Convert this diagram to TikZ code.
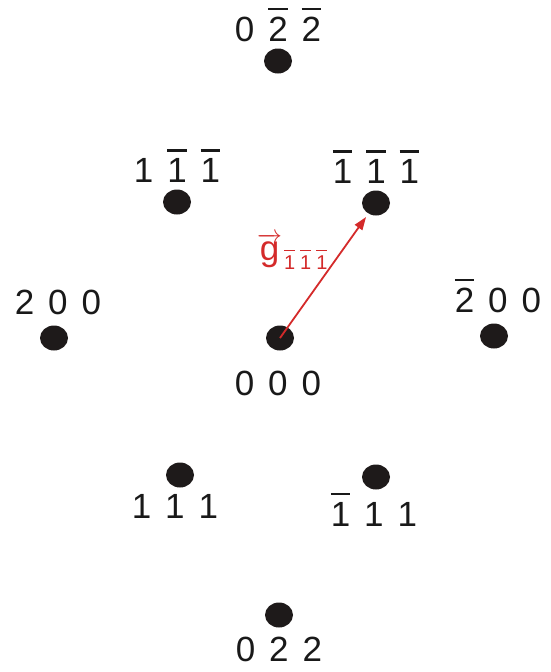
\documentclass[tikz,border=0pt]{standalone}
\usepackage{fontspec}
\setmainfont{Liberation Sans}
\usepackage{tikz}
\usetikzlibrary{positioning, arrows.meta, shapes.geometric}
\definecolor{spotc}{HTML}{1E1A1A}
\definecolor{gred}{HTML}{D42A2A}
\newcommand\nb[1]{\vbox{\hrule height .07em\kern .19em\hbox{#1}}}
\newcommand\hkl[3]{#1\hskip .4em #2\hskip .4em #3}
\newcommand\hkls[3]{#1\hskip .25em #2\hskip .25em #3}
\tikzset{
  spot/.style = {ellipse, fill=spotc, minimum width=28pt, minimum height=25pt, inner sep=0pt},
  idx/.style  = {inner sep=0pt, font=\fontsize{35}{40}\selectfont, text=black!90},
  glab/.style = {inner sep=0pt, font=\fontsize{35}{40}\selectfont, text=gred},
  gvec/.style = {-{Triangle[length=13pt,width=9pt]}, line width=1.8pt, draw=gred},
}

\begin{document}
\begin{tikzpicture}[x=1pt, y=-1pt]
  \useasboundingbox (0,0) rectangle (550,672);

  % reflections
  \node[spot] (d0m2m2)  at (278,61)  {};
  \node[spot] (d1m1m1)  at (177,202) {};
  \node[spot] (dm1m1m1) at (376,203) {};
  \node[spot] (d200)    at (54,338)  {};
  \node[spot] (d000)    at (280,338) {};
  \node[spot] (dm200)   at (494,336) {};
  \node[spot] (d111)    at (180,475) {};
  \node[spot] (dm111)   at (376,477) {};
  \node[spot] (d022)    at (279,615) {};

  % indices
  \node[idx, above=6.5pt of d0m2m2]  (l0m2m2)  {\hkl{0}{\nb{2}}{\nb{2}}};
  \node[idx, above=6.5pt of d1m1m1]  (l1m1m1)  {\hkl{1}{\nb{1}}{\nb{1}}};
  \node[idx, above=6.5pt of dm1m1m1] (lm1m1m1) {\hkl{\nb{1}}{\nb{1}}{\nb{1}}};
  \node[idx, above=10.5pt of d200, xshift=4pt]  (l200)  {\hkl{2}{0}{0}};
  \node[idx, above=10.5pt of dm200, xshift=4pt] (lm200) {\hkl{\nb{2}}{0}{0}};
  \node[idx, below=20pt of d000, xshift=-2pt]   (l000)  {\hkl{0}{0}{0}};
  \node[idx, below=7pt of d111, xshift=-5pt]    (l111)  {\hkl{1}{1}{1}};
  \node[idx, below=3pt of dm111, xshift=-2pt]   (lm111) {\hkl{\nb{1}}{1}{1}};
  \node[idx, below=9pt of d022]                 (l022)  {\hkl{0}{2}{2}};

  % reciprocal vector
  \draw[gvec, shorten >=4pt] (d000.center) -- (dm1m1m1);
  \node[glab, anchor=base west] (gl) at (257,260)
       {$\overrightarrow{\mbox{g}}$\kern 2pt\raisebox{-9pt}{\fontsize{20}{22}\selectfont\hkls{\nb{1}}{\nb{1}}{\nb{1}}}};
\end{tikzpicture}
\end{document}
